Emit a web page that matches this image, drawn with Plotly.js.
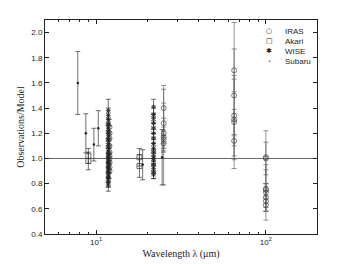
<!DOCTYPE html>
<html><head><meta charset="utf-8">
<script src="https://cdn.plot.ly/plotly-3.0.1.min.js"></script>
<style>html,body{margin:0;padding:0;background:#fff;}#chart{width:350px;height:264px;}</style>
</head><body><div id="chart"></div>
<script>
// ---- data ----
const subaruWl  = [7.8, 8.7, 9.7, 10.3, 18.8, 24.5];
const subaruVal = [1.60, 1.20, 1.11, 1.24, 0.95, 1.01];
const subaruErr = [0.25, 0.155, 0.13, 0.14, 0.12, 0.22];

const akariWl  = [9, 9, 18, 18];
const akariVal = [1.02, 0.98, 1.01, 0.94];
const akariErr = [0.06, 0.07, 0.07, 0.09];

const wise12Val = [1.38, 1.34, 1.31, 1.27, 1.24, 1.21, 1.18, 1.15, 1.12, 1.09, 1.06, 1.03, 1.01, 0.99, 0.97, 0.95, 0.93, 0.91, 0.89, 0.87, 0.85, 0.83, 0.81, 0.79];
const wise12Err = [0.09, 0.06, 0.05, 0.05, 0.04, 0.05, 0.04, 0.05, 0.04, 0.05, 0.04, 0.05, 0.04, 0.05, 0.04, 0.05, 0.04, 0.05, 0.04, 0.05, 0.04, 0.05, 0.04, 0.05];
const wise22Val = [1.41, 1.35, 1.32, 1.28, 1.24, 1.20, 1.16, 1.12, 1.08, 1.05, 1.02, 1.00, 0.98, 0.95, 0.92, 0.89, 0.87];
const wise22Err = [0.06, 0.05, 0.04, 0.05, 0.04, 0.05, 0.04, 0.05, 0.04, 0.05, 0.04, 0.05, 0.04, 0.05, 0.04, 0.05, 0.03];

const iras12Val  = [1.25, 1.20, 1.16, 1.10, 1.05, 1.02, 1.00, 0.97, 0.93, 0.90];
const iras12Err  = [0.06, 0.06, 0.05, 0.06, 0.05, 0.06, 0.05, 0.06, 0.05, 0.06];
const iras25Val  = [1.40, 1.28, 1.20, 1.17, 1.15, 1.12];
const iras25Err  = [0.18, 0.16, 0.12, 0.38, 0.10, 0.06];
const iras60Val  = [1.70, 1.50, 1.34, 1.31, 1.29, 1.14];
const iras60Err  = [0.17, 0.58, 0.32, 0.32, 0.10, 0.04];
const iras100Val = [1.01, 1.00, 0.76, 0.75, 0.73, 0.69, 0.66, 0.63];
const iras100Err = [0.21, 0.13, 0.15, 0.05, 0.22, 0.11, 0.08, 0.05];

const wise12Wl = 11.8, wise22Wl = 21.8;
const iras12Wl = 12, iras25Wl = 25, iras60Wl = 65, iras100Wl = 100;

const legendNames = ['IRAS', 'Akari', 'WISE', 'Subaru'];
const legendGlyphs = ['○', '□', '✱', '•'];
const yTicks = [0.4, 0.6, 0.8, 1.0, 1.2, 1.4, 1.6, 1.8, 2.0];
const xTickVals = [10, 100];
const xTickText = ['10<sup>1</sup>', '10<sup>2</sup>'];
const xMinor = [6, 7, 8, 9, 20, 30, 40, 50, 60, 70, 80, 90, 200];

// ---- build traces ----
const fill = (v, n) => Array(n).fill(v);
const ink = '#222';
function eb(arr, col) { return {type: 'data', array: arr, visible: true, color: col, thickness: 0.7, width: 2.5}; }

const irasX = [].concat(fill(iras12Wl, iras12Val.length), fill(iras25Wl, iras25Val.length), fill(iras60Wl, iras60Val.length), fill(iras100Wl, iras100Val.length));
const irasY = [].concat(iras12Val, iras25Val, iras60Val, iras100Val);
const irasE = [].concat(iras12Err, iras25Err, iras60Err, iras100Err);
const wiseX = [].concat(fill(wise12Wl, wise12Val.length), fill(wise22Wl, wise22Val.length));
const wiseY = [].concat(wise12Val, wise22Val);
const wiseE = [].concat(wise12Err, wise22Err);

const traces = [
  {x: irasX, y: irasY, error_y: eb(irasE, '#666'), mode: 'markers', name: 'IRAS', showlegend: false,
   marker: {symbol: 'circle-open', size: 5, color: '#444', line: {width: 0.7, color: '#444'}}},
  {x: akariWl, y: akariVal, error_y: eb(akariErr, '#333'), mode: 'markers', name: 'Akari', showlegend: false,
   marker: {symbol: 'square-open', size: 5, color: '#333', line: {width: 0.7, color: '#333'}}},
  {x: wiseX, y: wiseY, error_y: eb(wiseE, '#333'), mode: 'markers', name: 'WISE', showlegend: false,
   marker: {symbol: 'asterisk-open', size: 4, color: ink, line: {width: 0.8, color: ink}}},
  {x: subaruWl, y: subaruVal, error_y: eb(subaruErr, '#333'), mode: 'markers', name: 'Subaru', showlegend: false,
   marker: {symbol: 'circle', size: 2.5, color: ink}}
];

const annotations = [];
legendNames.forEach((n, i) => {
  annotations.push({xref: 'paper', yref: 'paper', x: 0.824, y: 0.947 - i * 0.0467, text: legendGlyphs[i],
    showarrow: false, xanchor: 'center', yanchor: 'middle', font: {family: 'DejaVu Sans', size: i === 3 ? 5 : 7, color: ink}});
  annotations.push({xref: 'paper', yref: 'paper', x: 0.875, y: 0.947 - i * 0.0467, text: n,
    showarrow: false, xanchor: 'left', yanchor: 'middle', font: {family: 'Liberation Sans', size: 8, color: ink}});
});

const layout = {
  width: 350, height: 264,
  margin: {l: 45, r: 33, t: 20, b: 30},
  paper_bgcolor: '#fff', plot_bgcolor: '#fff',
  showlegend: false,
  font: {family: 'Liberation Sans', size: 8, color: '#222'},
  xaxis: {type: 'log', range: [Math.log10(5), Math.log10(200)], tickvals: xTickVals, ticktext: xTickText,
    ticks: 'inside', ticklen: 4, tickcolor: '#222', showline: true, linecolor: '#222', linewidth: 1, mirror: 'ticks',
    showgrid: false, zeroline: false,
    minor: {tickvals: xMinor, ticks: 'inside', ticklen: 2, tickcolor: '#222', showgrid: false},
    title: {text: 'Wavelength λ (μm)', font: {family: 'Liberation Serif', size: 10, color: '#222'}, standoff: 4}},
  yaxis: {range: [0.4, 2.1], tickvals: yTicks, tickformat: '.1f', ticks: 'inside', ticklen: 4, tickcolor: '#222',
    showline: true, linecolor: '#222', linewidth: 1, mirror: 'ticks', showgrid: false, zeroline: false,
    title: {text: 'Observations/Model', font: {family: 'Liberation Serif', size: 10, color: '#222'}, standoff: 4}},
  shapes: [{type: 'line', xref: 'paper', x0: 0, x1: 1, yref: 'y', y0: 1, y1: 1, line: {color: '#666', width: 1}, layer: 'below'}],
  annotations: annotations
};

Plotly.newPlot('chart', traces, layout, {displayModeBar: false, staticPlot: true});
</script></body></html>
